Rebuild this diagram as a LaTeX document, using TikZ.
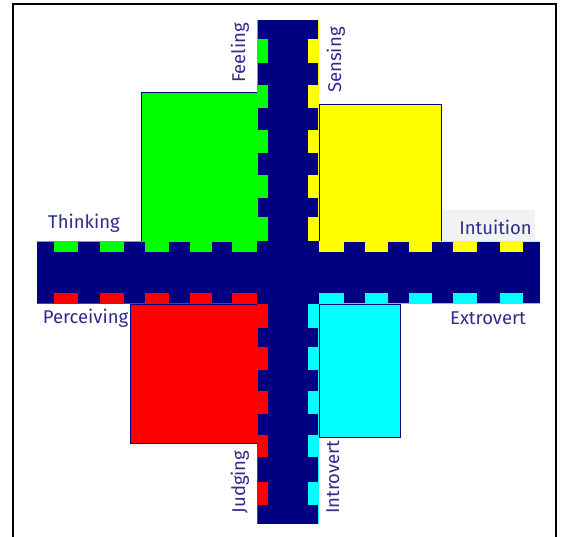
\documentclass[tikz,border=0pt]{standalone}
\usepackage{fontspec}
\setmainfont{Fira Sans}
\usetikzlibrary{positioning}
\definecolor{mbNavy}{RGB}{0,0,128}
\definecolor{mbGreen}{RGB}{0,255,0}
\definecolor{mbYellow}{RGB}{255,255,0}
\definecolor{mbRed}{RGB}{255,0,0}
\definecolor{mbCyan}{RGB}{0,255,255}
\definecolor{mbText}{RGB}{45,45,140}
\definecolor{mbGrey}{RGB}{242,242,242}

\begin{document}
\begin{tikzpicture}[x=1pt, y=-1pt,
    quad/.style={draw=mbNavy, line width=0.8pt},
    lbl/.style={text=mbText, font=\fontsize{18.5}{21}\selectfont, inner sep=1pt},
    vlbl/.style={lbl, rotate=90, anchor=base}]
  \useasboundingbox (0,0) rectangle (563,537);
  \fill[white] (0,0) rectangle (563,537);
  \draw[line width=1.5pt] (13,537) -- (13,4) -- (556,4) -- (556,537);

  % the four quadrants
  \filldraw[quad, fill=mbGreen] (141,92) rectangle (258,241);
  \filldraw[quad, fill=mbYellow] (319,104) rectangle (441,241);
  \filldraw[quad, fill=mbRed] (130,304) rectangle (258,443);
  \filldraw[quad, fill=mbCyan] (319,304) rectangle (400,437);

  % coloured edges of the cross
  \fill[mbGreen] (37,241) rectangle (257,252);
  \fill[mbGreen] (257,20) rectangle (268,241);
  \fill[mbYellow] (319,241) rectangle (540,252);
  \fill[mbYellow] (308,20) rectangle (319,241);
  \fill[mbRed] (37,293) rectangle (257,304);
  \fill[mbRed] (257,304) rectangle (268,524);
  \fill[mbCyan] (319,293) rectangle (540,304);
  \fill[mbCyan] (308,304) rectangle (319,524);

  % navy cross with its teeth
  \fill[mbNavy] (37,252) rectangle (540,293);
  \fill[mbNavy] (268,20) rectangle (308,524);
  \fill[mbNavy] (257,241) rectangle (319,304);
  \foreach \a/\b in {37/54, 78/100, 124/145, 169/190, 212/232,
                     344/365, 388/409, 432/453, 477/500, 523/540}
    \fill[mbNavy] (\a,241.8) rectangle (\b,303.2);
  \foreach \a/\b in {20/39, 63/85, 108/130, 153/175, 198/217,
                     328/347, 370/391, 414/435, 457/482, 505/524}
    \fill[mbNavy] (257.8,\a) rectangle (318.2,\b);

  % labels
  \node[lbl, anchor=base] (thinking) at (84,229) {Thinking};
  \node[lbl, anchor=base] (perceiving) at (85.5,324) {Perceiving};
  \node[lbl, anchor=base] (extrovert) at (488,325) {Extrovert};
  \node[lbl, fill=mbGrey, text width=87pt, align=right, inner xsep=3pt,
        inner ysep=3pt, text height=22pt, text depth=3pt,
        anchor=base east] (intuition) at (535,235) {Intuition};
  \node[vlbl] (feeling) at (245,53) {Feeling};
  \node[vlbl] (sensing) at (341,60) {Sensing};
  \node[vlbl] (judging) at (245,482) {Judging};
  \node[vlbl] (introvert) at (339,477) {Introvert};
\end{tikzpicture}
\end{document}
